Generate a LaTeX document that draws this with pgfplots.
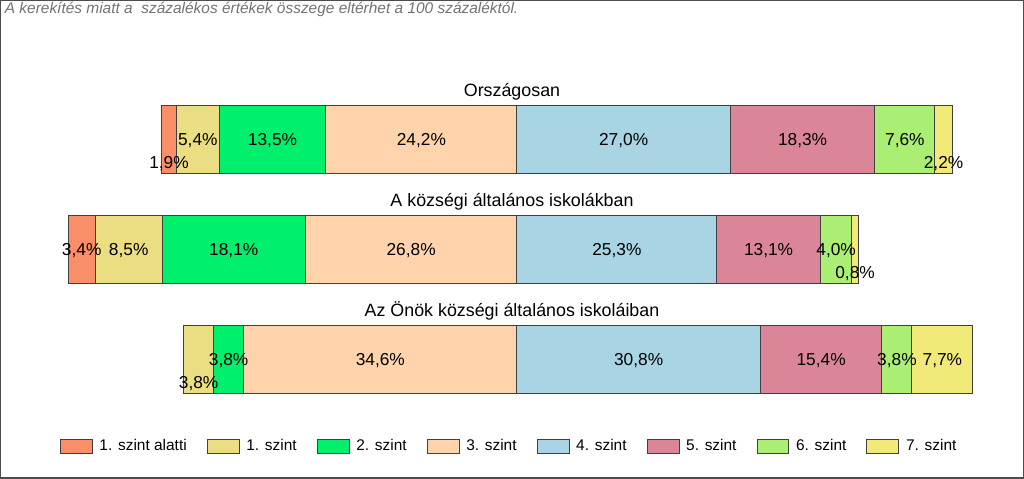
\documentclass[border=0pt]{standalone}
\usepackage{pgfplots}
\pgfplotsset{compat=1.18}
\usepackage{fontspec}
\setmainfont{Liberation Sans}
\definecolor{c0}{RGB}{250,142,105}
\definecolor{c1}{RGB}{235,222,130}
\definecolor{c2}{RGB}{0,240,110}
\definecolor{c3}{RGB}{255,212,172}
\definecolor{c4}{RGB}{168,212,228}
\definecolor{c5}{RGB}{218,134,152}
\definecolor{c6}{RGB}{170,238,115}
\definecolor{c7}{RGB}{242,234,120}
\definecolor{edge}{RGB}{64,64,64}
\pgfplotsset{
  /pgf/number format/.cd, fixed, fixed zerofill, precision=1, use comma, assume math mode=true,
  /pgfplots/.cd,
  base/.style={scale only axis, width=768pt, height=358.5pt,
    xmin=-65.36, xmax=64.10, ymin=0, ymax=478, y dir=reverse,
    hide axis, clip=false, at={(0,0)}, anchor=south west},
}
\begin{document}
\begin{tikzpicture}
\begin{axis}[base, xbar stacked, stack negative=on previous, bar width=51pt,
  every axis plot/.append style={draw=edge, line width=0.75pt},
]
% invisible offset so that level 3 / level 4 boundary sits at 0
\addplot[draw=none, fill=none] coordinates {(-45.0,139) (-56.8,249) (-42.2,359)};
\addplot[fill=c0] coordinates {(1.9,139) (3.4,249) (0,359)};
\addplot[fill=c1] coordinates {(5.4,139) (8.5,249) (3.8,359)};
\addplot[fill=c2] coordinates {(13.5,139) (18.1,249) (3.8,359)};
\addplot[fill=c3] coordinates {(24.2,139) (26.8,249) (34.6,359)};
\addplot[fill=c4] coordinates {(27.0,139) (25.3,249) (30.8,359)};
\addplot[fill=c5] coordinates {(18.3,139) (13.1,249) (15.4,359)};
\addplot[fill=c6] coordinates {(7.6,139) (4.0,249) (3.8,359)};
\addplot[fill=c7] coordinates {(2.2,139) (0.8,249) (7.7,359)};
\end{axis}
\begin{axis}[base,
  point meta=explicit,
  nodes near coords={\pgfmathprintnumber{\pgfplotspointmeta}\%},
  every node near coord/.append style={anchor=center, font=\fontsize{13}{15}\selectfont, text=black, inner sep=0pt},
  legend columns=8,
  legend style={at={(axis cs:-57.9,446)}, anchor=west, draw=none, fill=none,
    inner sep=0pt, font=\fontsize{11.6}{14}\selectfont,
    nodes={inner sep=0pt},
    /tikz/every odd column/.append style={column sep=5pt},
    /tikz/every even column/.append style={column sep=15pt}},
  legend image code/.code={\draw[#1] (0pt,-5.25pt) rectangle (24pt,5.25pt);},
]
\addlegendimage{fill=c0, draw=edge, line width=0.75pt}
\addlegendentry{1. szint alatti}
\addlegendimage{fill=c1, draw=edge, line width=0.75pt}
\addlegendentry{1. szint}
\addlegendimage{fill=c2, draw=edge, line width=0.75pt}
\addlegendentry{2. szint}
\addlegendimage{fill=c3, draw=edge, line width=0.75pt}
\addlegendentry{3. szint}
\addlegendimage{fill=c4, draw=edge, line width=0.75pt}
\addlegendentry{4. szint}
\addlegendimage{fill=c5, draw=edge, line width=0.75pt}
\addlegendentry{5. szint}
\addlegendimage{fill=c6, draw=edge, line width=0.75pt}
\addlegendentry{6. szint}
\addlegendimage{fill=c7, draw=edge, line width=0.75pt}
\addlegendentry{7. szint}
\addplot[draw=none, mark=none, forget plot] table[x=x, y=y, meta=v] {
x y v
-44.05 163 1.9
-40.4 140 5.4
-30.95 140 13.5
-12.1 140 24.2
13.5 140 27.0
36.15 140 18.3
49.1 140 7.6
54.0 163 2.2
-55.1 250 3.4
-49.15 250 8.5
-35.85 250 18.1
-13.4 250 26.8
12.65 250 25.3
31.85 250 13.1
40.4 250 4.0
42.8 273 0.8
-40.3 383 3.8
-36.5 360 3.8
-17.3 360 34.6
15.4 360 30.8
38.5 360 15.4
48.1 360 3.8
53.85 360 7.7
};
\node[anchor=base, font=\fontsize{13.4}{16}\selectfont] at (axis cs:-0.63,96) {Országosan};
\node[anchor=base, font=\fontsize{13.4}{16}\selectfont] at (axis cs:-0.63,206) {A községi általános iskolákban};
\node[anchor=base, font=\fontsize{13.4}{16}\selectfont] at (axis cs:-0.63,316) {Az Önök községi általános iskoláiban};
\node[anchor=north west, inner sep=0pt, text=black!55, font=\itshape\fontsize{11.6}{13}\selectfont] at (axis cs:-64.86,1.5) {A kerekítés miatt a \ százalékos értékek összege eltérhet a 100 százaléktól.};
\draw[black!70, line width=1pt] (rel axis cs:0,0) rectangle (rel axis cs:1,1);
\end{axis}
\end{tikzpicture}
\end{document}
